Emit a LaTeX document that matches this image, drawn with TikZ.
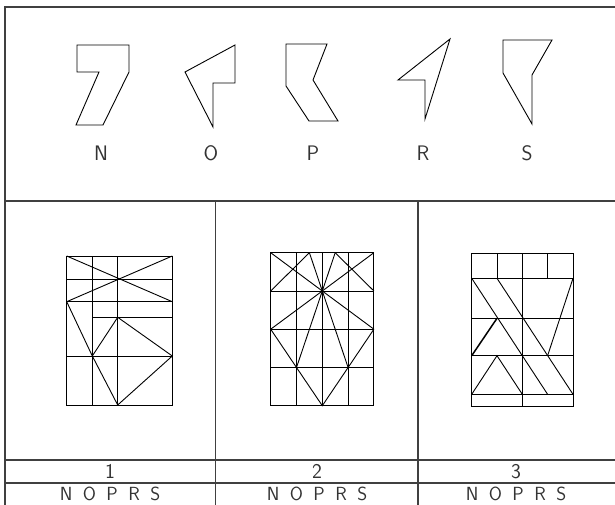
\documentclass[tikz,border=0pt]{standalone}
\usetikzlibrary{positioning}
\tikzset{
  % Frame of the sheet
  frame/.style={draw=black!75,line width=1.1pt},
  % Cut-out pieces
  piece/.style={draw=black,line width=0.9pt,line join=miter},
  % Puzzle grids
  gridline/.style={draw=black,line width=0.9pt},
  boldline/.style={draw=black,line width=1.5pt},
  % Text
  lbl/.style={font=\sffamily\fontsize{21}{24}\selectfont,text=black!80,inner sep=0pt},
  choice/.style={lbl,font=\sffamily\fontsize{19}{22}\selectfont}
}
\newcommand{\choices}{N\hspace{0.55em}O\hspace{0.55em}P\hspace{0.55em}R\hspace{0.55em}S}

\begin{document}
\begin{tikzpicture}[x=1pt,y=-1pt]
  \useasboundingbox (0,0) rectangle (615,505);
  % Frame
  \draw[frame] (615,7) -- (5,7) -- (5,505);
  \draw[frame] (5,201) -- (615,201);
  \draw[frame] (215.5,201) -- (215.5,505);
  \draw[frame] (418,201) -- (418,505);
  \draw[frame] (5,460) -- (615,460);
  \draw[frame] (5,483) -- (615,483);

  % Pieces
  \draw[piece] (77,45) -- (129,45) -- (129,72) -- (103,125) -- (76,125) -- (99,72) -- (77,72) -- cycle;
  \draw[piece] (235,45) -- (235,83) -- (213,83) -- (213,127) -- (185,72) -- cycle;
  \draw[piece] (286,44) -- (327,44) -- (313,80) -- (338,121) -- (309,121) -- (286,86) -- cycle;
  \draw[piece] (450,39) -- (425,119) -- (425,80) -- (398,80) -- cycle;
  \draw[piece] (503,40) -- (552,40) -- (532,75) -- (532,124) -- (503,73) -- cycle;
  \node[lbl] (lN) at (101,153) {N};
  \node[lbl] (lO) at (211,153) {O};
  \node[lbl] (lP) at (313,153) {P};
  \node[lbl] (lR) at (423,153) {R};
  \node[lbl] (lS) at (527,153) {S};

  % Grid 1
  \draw[gridline] (66.7,256) rectangle (172.3,405);
  \foreach \x in {92.3,117.7} \draw[gridline] (\x,256) -- (\x,405);
  \foreach \y in {279.3,301.7,356} \draw[gridline] (66.7,\y) -- (172.3,\y);
  \draw[gridline] (92.3,317.3) -- (172.3,317.3);
  \draw[gridline] (66.7,256) -- (172.3,301.7);
  \draw[gridline] (172.3,256) -- (66.7,301.7);
  \draw[gridline] (66.7,301.7) -- (92.3,356) -- (117.7,405) -- (172.3,356)
    -- (117.7,317.3) -- (92.3,356);

  % Grid 2
  \draw[gridline] (270.7,252.7) rectangle (373.9,405.7);
  \foreach \x in {296.5,322.3,348.1} \draw[gridline] (\x,252.7) -- (\x,405.7);
  \foreach \y in {291,329.2,367.5} \draw[gridline] (270.7,\y) -- (373.9,\y);
  \coordinate (mid2) at (322.3,291);
  \foreach \x/\y in {270.7/252.7,309.4/252.7,335.2/252.7,373.9/252.7,
                     270.7/329.2,373.9/329.2,296.5/367.5,348.1/367.5}
    \draw[gridline] (mid2) -- (\x,\y);
  \draw[gridline] (309.4,252.7) -- (270.7,291);
  \draw[gridline] (335.2,252.7) -- (373.9,291);
  \draw[gridline] (270.7,329.2) -- (296.5,367.5) -- (322.3,405.7)
    -- (348.1,367.5) -- (373.9,329.2);

  % Grid 3
  \draw[gridline] (471.7,253.3) rectangle (573,406);
  \foreach \x in {497,547.6} \draw[gridline] (\x,253.3) -- (\x,278.3);
  \draw[gridline] (522.3,253.3) -- (522.3,406);
  \foreach \y in {278.3,318.3,394.3} \draw[gridline] (471.7,\y) -- (573,\y);
  \draw[boldline] (471.7,355.7) -- (573,355.7);
  \draw[gridline] (471.7,278.3) -- (522.3,355.7);
  \draw[gridline] (497,278.3) -- (573,394.3);
  \draw[gridline] (573,278.3) -- (547.6,355.7);
  \draw[gridline] (522.3,355.7) -- (547.6,394.3);
  \draw[boldline] (471.7,355.7) -- (497,318.3);
  \draw[gridline] (471.7,394.3) -- (497,355.7) -- (522.3,394.3);

  % Answer rows
  \node[lbl] (n1) at (110,471.5) {1};
  \node[lbl] (n2) at (317,471.5) {2};
  \node[lbl] (n3) at (516,471.5) {3};
  \node[choice] (c1) at (110,494) {\choices};
  \node[choice] (c2) at (317,494) {\choices};
  \node[choice] (c3) at (516,494) {\choices};
\end{tikzpicture}
\end{document}
